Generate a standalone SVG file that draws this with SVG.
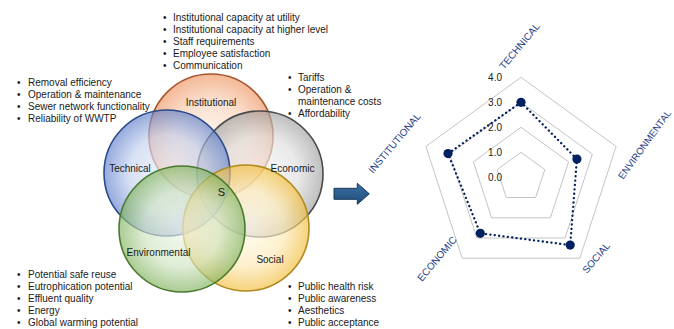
<svg xmlns="http://www.w3.org/2000/svg" width="674" height="329" viewBox="0 0 674 329">
<style>
text{font-family:"Liberation Sans",Arial,sans-serif;font-size:10px;fill:#1a1a1a}
.c{stroke-width:1.6;fill-opacity:0.66}
.lbl{text-anchor:middle}
.ax{fill:#1F3C88}
.sc{text-anchor:end}
.grid{fill:none;stroke:#C4C4C4;stroke-width:1}
.data{fill:none;stroke:#002060;stroke-width:2.3;stroke-dasharray:0.1 4.3;stroke-linecap:round}
.mk{fill:#002060}
</style>
<defs>
<radialGradient id="gO" cx="50%" cy="50%" r="50%"><stop offset="0" stop-color="#FCEDE3"/><stop offset="0.6" stop-color="#F8CDB2"/><stop offset="1" stop-color="#EE9460"/></radialGradient>
<radialGradient id="gB" cx="50%" cy="50%" r="50%"><stop offset="0" stop-color="#EEF2FA"/><stop offset="0.6" stop-color="#C3D0EE"/><stop offset="1" stop-color="#5E7FCB"/></radialGradient>
<radialGradient id="gG" cx="50%" cy="50%" r="50%"><stop offset="0" stop-color="#F7F7F7"/><stop offset="0.6" stop-color="#DEDEDE"/><stop offset="1" stop-color="#9E9E9E"/></radialGradient>
<radialGradient id="gE" cx="50%" cy="50%" r="50%"><stop offset="0" stop-color="#F1F7EC"/><stop offset="0.6" stop-color="#CFE3C0"/><stop offset="1" stop-color="#7FB25C"/></radialGradient>
<radialGradient id="gY" cx="50%" cy="50%" r="50%"><stop offset="0" stop-color="#FFFAEA"/><stop offset="0.6" stop-color="#FCE9B4"/><stop offset="1" stop-color="#F2BC3A"/></radialGradient>
<linearGradient id="gA" x1="0" y1="0" x2="0" y2="1"><stop offset="0" stop-color="#3A6FA6"/><stop offset="1" stop-color="#1F4E79"/></linearGradient>
</defs>

<g id="venn-institutional"><circle class="c" cx="211" cy="136" r="62" fill="url(#gO)" stroke="#A8542C"/></g>
<g id="venn-economic"><circle class="c" cx="260" cy="174" r="63" fill="url(#gG)" stroke="#4A4A4A"/></g>
<g id="venn-technical"><circle class="c" cx="167" cy="173" r="63" fill="url(#gB)" stroke="#2B4A8A"/></g>
<g id="venn-social"><circle class="c" cx="246" cy="228" r="63" fill="url(#gY)" stroke="#B08A1E"/></g>
<g id="venn-environmental"><circle class="c" cx="182" cy="229" r="63" fill="url(#gE)" stroke="#4A7A30"/></g>

<g id="venn-labels">
<text class="lbl" x="211" y="105.5">Institutional</text>
<text class="lbl" x="130" y="172">Technical</text>
<text class="lbl" x="292.5" y="172">Economic</text>
<text class="lbl" x="158.5" y="256">Environmental</text>
<text class="lbl" x="270" y="263">Social</text>
<text class="lbl" x="221.5" y="195.5" style="font-size:11px">S</text>
</g>

<g id="list-institutional">
<text x="163" y="21">•</text><text x="173" y="21">Institutional capacity at utility</text>
<text x="163" y="33">•</text><text x="173" y="33">Institutional capacity at higher level</text>
<text x="163" y="45">•</text><text x="173" y="45">Staff requirements</text>
<text x="163" y="57">•</text><text x="173" y="57">Employee satisfaction</text>
<text x="163" y="69">•</text><text x="173" y="69">Communication</text>
</g>
<g id="list-technical">
<text x="17" y="85.5">•</text><text x="28" y="85.5">Removal efficiency</text>
<text x="17" y="97.5">•</text><text x="28" y="97.5">Operation &amp; maintenance</text>
<text x="17" y="109.5">•</text><text x="28" y="109.5">Sewer network functionality</text>
<text x="17" y="121.5">•</text><text x="28" y="121.5">Reliability of WWTP</text>
</g>
<g id="list-economic">
<text x="288" y="81">•</text><text x="298" y="81">Tariffs</text>
<text x="288" y="93">•</text><text x="298" y="93">Operation &amp;</text>
<text x="298" y="105">maintenance costs</text>
<text x="288" y="117">•</text><text x="298" y="117">Affordability</text>
</g>
<g id="list-environmental">
<text x="17" y="278">•</text><text x="28" y="278">Potential safe reuse</text>
<text x="17" y="290">•</text><text x="28" y="290">Eutrophication potential</text>
<text x="17" y="302">•</text><text x="28" y="302">Effluent quality</text>
<text x="17" y="314">•</text><text x="28" y="314">Energy</text>
<text x="17" y="326">•</text><text x="28" y="326">Global warming potential</text>
</g>
<g id="list-social">
<text x="288" y="290">•</text><text x="298" y="290">Public health risk</text>
<text x="288" y="302">•</text><text x="298" y="302">Public awareness</text>
<text x="288" y="314">•</text><text x="298" y="314">Aesthetics</text>
<text x="288" y="326">•</text><text x="298" y="326">Public acceptance</text>
</g>

<g id="connectors">
<polygon points="334,188.3 357.3,188.3 357.3,183.3 369.3,193.8 357.3,204.3 357.3,199.3 334,199.3" fill="url(#gA)" stroke="#1B3A5C" stroke-width="1"/>
</g>

<g id="radar">
<polygon class="grid" points="521,77.3 616.1,146.4 579.8,258.2 462.2,258.2 425.9,146.4"/>
<polygon class="grid" points="521,102.3 592.3,154.1 565.1,238 476.9,238 449.7,154.1"/>
<polygon class="grid" points="521,127.3 568.6,161.9 550.4,217.75 491.6,217.75 473.4,161.9"/>
<polygon class="grid" points="521,152.3 544.8,169.6 535.7,197.5 506.3,197.5 497.2,169.6"/>
<text class="sc" x="502" y="81">4.0</text>
<text class="sc" x="502" y="106">3.0</text>
<text class="sc" x="502" y="131">2.0</text>
<text class="sc" x="502" y="156">1.0</text>
<text class="sc" x="502" y="181">0.0</text>
<polygon class="data" points="521,102.3 576.9,159.1 570.2,245.1 480.3,233.3 448,153.6"/>
<circle class="mk" cx="521" cy="102.3" r="4.6"/>
<circle class="mk" cx="576.9" cy="159.1" r="4.6"/>
<circle class="mk" cx="570.2" cy="245.1" r="4.6"/>
<circle class="mk" cx="480.3" cy="233.3" r="4.6"/>
<circle class="mk" cx="448" cy="153.6" r="4.6"/>
<text class="ax" transform="translate(504,70) rotate(-50)">TECHNICAL</text>
<text class="ax" transform="translate(623,180) rotate(-54)" style="font-size:9.7px">ENVIRONMENTAL</text>
<text class="ax" transform="translate(587,274) rotate(-50)">SOCIAL</text>
<text class="ax" transform="translate(422,282) rotate(-50)">ECONOMIC</text>
<text class="ax" transform="translate(373,174) rotate(-50)">INSTITUTIONAL</text>
</g>
</svg>
